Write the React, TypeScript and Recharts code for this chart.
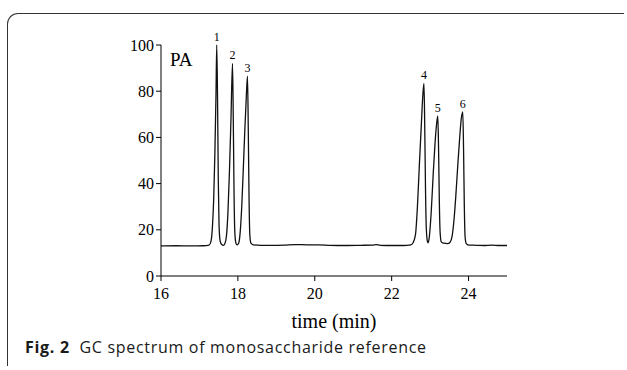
import { ComposedChart, Line, Scatter, XAxis, YAxis, Label } from "recharts"

// retention time (min) and detector signal (pA)
const time = [
  16.0, 16.4, 16.8, 17.1, 17.25, 17.3, 17.34, 17.37, 17.4, 17.43, 17.45, 17.47, 17.49, 17.51, 17.54, 17.58,
  17.62, 17.66, 17.7, 17.74, 17.78, 17.82, 17.86, 17.88, 17.9, 17.92, 17.95, 17.98, 18.02, 18.06, 18.1, 18.14,
  18.18, 18.22, 18.25, 18.27, 18.29, 18.31, 18.34, 18.4, 18.6, 18.9, 19.2, 19.5, 19.8, 20.1, 20.4, 20.8, 21.2,
  21.5, 21.6, 21.7, 22.0, 22.3, 22.5, 22.56, 22.62, 22.67, 22.72, 22.77, 22.81, 22.84, 22.86, 22.88, 22.9, 22.93,
  22.95, 22.98, 23.03, 23.08, 23.13, 23.17, 23.2, 23.22, 23.24, 23.26, 23.29, 23.35, 23.45, 23.52, 23.57, 23.62,
  23.67, 23.72, 23.77, 23.81, 23.85, 23.87, 23.89, 23.91, 23.94, 24.0, 24.2, 24.4, 24.6, 24.8, 25.0,
]
const signal = [
  13.0, 13.1, 13.0, 13.1, 13.4, 15, 22, 33, 52, 78, 100, 78, 42, 22, 15, 13.6,
  13.3, 14.0, 17, 27, 45, 68, 92, 68, 36, 19, 14.2, 13.5, 14.2, 19, 30, 46,
  63, 78, 86.5, 64, 34, 18, 14.2, 13.5, 13.3, 13.3, 13.4, 13.6, 13.5, 13.5, 13.3, 13.2, 13.3,
  13.4, 13.6, 13.3, 13.2, 13.2, 13.5, 14.5, 18, 30, 48, 65, 78, 83.4, 65, 38, 21, 15,
  14.4, 17, 28, 44, 58, 66, 69.3, 55, 32, 19, 14.8, 14.2, 14.0, 14.6, 17, 24,
  35, 48, 60, 68, 71, 55, 30, 17, 14, 13.4, 13.3, 13.2, 13.4, 13.2, 13.2,
]

// peak numbers with apex position
const peakTimes = [17.45, 17.86, 18.25, 22.84, 23.2, 23.85]
const peakHeights = [100, 92, 86.5, 83.4, 69.3, 71]
const peakLabels = ["1", "2", "3", "4", "5", "6"]

const xTicks = [16, 18, 20, 22, 24]
const yTicks = [0, 20, 40, 60, 80, 100]

const trace = time.map((t, i) => ({ t, v: signal[i] }))
const peaks = peakTimes.map((t, i) => ({ t, h: peakHeights[i], label: peakLabels[i] }))

const serif = "'Liberation Serif', 'Times New Roman', serif"
const serifText = (size: number) => ({ fontFamily: serif, fontSize: size, fill: "#000" })

function XTick({ x, y, payload }: any) {
  return (
    <text x={x} y={y} dy={16} textAnchor="middle" style={serifText(16)}>
      {payload.value}
    </text>
  )
}

function YTick({ x, y, payload }: any) {
  return (
    <text x={x} y={y} dy={5.5} textAnchor="end" style={serifText(16)}>
      {payload.value}
    </text>
  )
}

function PeakMark({ cx, cy, payload }: any) {
  return (
    <text x={cx} y={cy - 4} textAnchor="middle" style={serifText(12)}>
      {payload.label}
    </text>
  )
}

export default function App() {
  return (
    <div style={{ position: "absolute", left: 0, top: 0, width: 627, height: 370, background: "#fff" }}>
      <div
        style={{
          position: "absolute",
          left: 7,
          top: 13,
          width: 616,
          height: 352,
          borderTop: "1.5px solid #333",
          borderLeft: "1.5px solid #333",
          borderTopLeftRadius: 11,
        }}
      />
      <ComposedChart
        width={627}
        height={370}
        margin={{ top: 45, right: 120, bottom: 64, left: 121 }}
        style={{ position: "absolute", left: 0, top: 0 }}
      >
        <XAxis
          dataKey="t"
          type="number"
          domain={[16, 25]}
          ticks={xTicks}
          allowDataOverflow
          height={30}
          stroke="#000"
          tick={<XTick />}
          tickSize={5}
          tickMargin={2}
        >
          <Label value="time (min)" position="bottom" offset={8} style={serifText(20)} />
        </XAxis>
        <YAxis
          type="number"
          domain={[0, 100]}
          ticks={yTicks}
          width={40}
          stroke="#000"
          tick={<YTick />}
          tickSize={5}
          tickMargin={2}
        />
        <Line
          data={trace}
          dataKey="v"
          type="monotone"
          stroke="#111"
          strokeWidth={1.3}
          dot={false}
          isAnimationActive={false}
        />
        <Scatter data={peaks} dataKey="h" shape={<PeakMark />} isAnimationActive={false} />
      </ComposedChart>
      <div style={{ position: "absolute", left: 170, top: 50, fontFamily: serif, fontSize: 19, lineHeight: "19px" }}>PA</div>
      <div
        style={{
          position: "absolute",
          left: 25,
          top: 339,
          fontFamily: "'Open Sans', 'Noto Sans', sans-serif",
          fontSize: 16,
          letterSpacing: 0.7,
          lineHeight: "16px",
          color: "#1a1a1a",
          whiteSpace: "nowrap",
        }}
      >
        <b>Fig. 2</b>&nbsp; GC spectrum of monosaccharide reference
      </div>
    </div>
  )
}
